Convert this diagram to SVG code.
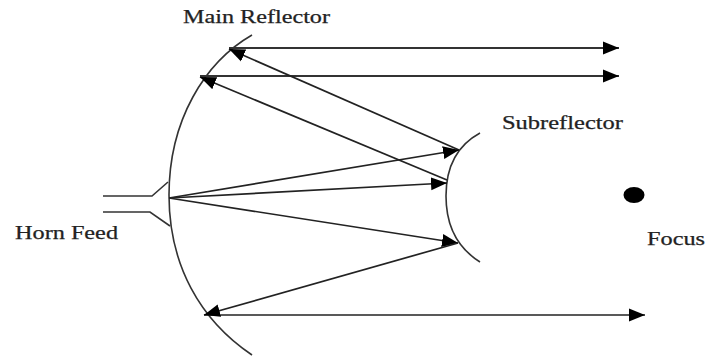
<svg xmlns="http://www.w3.org/2000/svg" width="705" height="357" viewBox="0 0 705 357">
<style>
.l{fill:none;stroke:#222;stroke-width:1.7}
.h{fill:none;stroke:#333;stroke-width:2}
.c{fill:none;stroke:#333;stroke-width:1.6}
text{font-family:"Liberation Serif",serif;font-size:18px;fill:#222;stroke:#222;stroke-width:.25}
</style>
<defs>
<marker id="a" markerUnits="userSpaceOnUse" markerWidth="18" markerHeight="14" refX="16" refY="7" orient="auto"><path d="M0 0.500L16 7L0 13.500Z" fill="#000"/></marker>
</defs>
<rect width="705" height="357" fill="#fff"/>
<g id="main-reflector"><path class="c" d="M252 35C205 62 169 120 169 195C169 265 200 320 252 355"/><text x="183" y="23" textLength="147" lengthAdjust="spacingAndGlyphs">Main Reflector</text></g>
<g id="subreflector"><path class="c" d="M480 133C456 146 446 168 446 196C446 224 456 247 480 262"/><text x="502" y="129" textLength="121" lengthAdjust="spacingAndGlyphs">Subreflector</text></g>
<g id="horn-feed"><path class="c" d="M103 196H152L168 182M103 212H150L170 226"/><text x="15" y="239" textLength="103" lengthAdjust="spacingAndGlyphs">Horn Feed</text></g>
<g id="focus"><ellipse cx="634" cy="195" rx="10.500" ry="8" fill="#000"/><text x="647" y="245" textLength="58" lengthAdjust="spacingAndGlyphs">Focus</text></g>
<g id="connectors">
<path class="h" marker-end="url(#a)" d="M229 48H619"/>
<path class="h" marker-end="url(#a)" d="M200 76H619"/>
<path class="l" marker-end="url(#a)" d="M204 315H645"/>
<path class="l" marker-end="url(#a)" d="M459 150L229 49"/>
<path class="l" marker-end="url(#a)" d="M447 180L200 77"/>
<path class="l" marker-end="url(#a)" d="M169 198L459 150"/>
<path class="l" marker-end="url(#a)" d="M169 198L447 183"/>
<path class="l" marker-end="url(#a)" d="M169 198L458 243"/>
<path class="l" marker-end="url(#a)" d="M458 243L204 315"/>
</g>
</svg>
